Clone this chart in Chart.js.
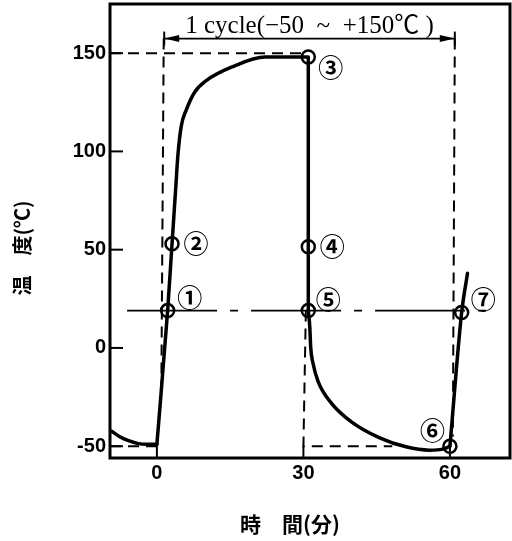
<!DOCTYPE html>
<html><head><meta charset="utf-8">
<script src="https://cdn.jsdelivr.net/npm/chart.js@4/dist/chart.umd.min.js"></script>
<style>html,body{margin:0;padding:0;background:#fff;}canvas{display:block;}</style>
</head><body>
<canvas id="c" width="512" height="541"></canvas>
<script>
// ---- data (time in minutes, temperature in °C) ----
const xTicks = [0, 30, 60];
const yTicks = [-50, 0, 50, 100, 150];
const preCycle = [[-9.2,-42.5],[-7.5,-45.3],[-5.8,-47.2],[-3.8,-48.7],[-2,-49],[0,-49]];
const heating  = [[0,-49],[2.2,19],[3.1,53],[3.85,81],[4.3,98],[5.0,113],[6.0,121],[7.7,130],[10.1,136],[15.4,143],[22.2,148],[31,148]];
const transfer = [[31,148],[31,19]];
const cooling  = [[31,19],[31.3,11],[31.5,0],[31.9,-7],[33,-17],[35.8,-28.3],[39.9,-37.7],[45.5,-45.6],[51,-50.3],[55.8,-52],[58.5,-51.5],[60,-50]];
const reheating = [[60,-50],[62.4,18],[63.6,38]];
const roomTempLine = [[-6.1,19],[69.7,19]];
const guideTop150 = [[-9.6,150],[30,150]];
const guideLow50  = [[-9.6,-50],[0,-50]];
const guideStart  = [[1.4,157.4],[0.9,-25]];
const guideEnd    = [[61.0,157.4],[60.6,-45]];
const guideMid    = [[30.5,19],[30,-50],[48.2,-50]];
const cycleSpan   = [[1.5,157.4],[61.0,157.4]];
const markers     = [[2.2,19],[3.1,53],[31,148],[31,51.5],[31,19],[60,-50],[62.4,18]];
const markerLabels = ['①','②','③','④','⑤','⑥','⑦'];
const cycleLabel = '1 cycle(−50  ~  +150℃ )';
const xTitle = '時　間(分)';
const yTitle = '温　度(℃)';

// ---- styling / layout ----
const markerOffsets = [[22,-13],[24,0],[22.5,10],[24,0],[20,-11],[-17.5,-16],[21.5,-13]];
const pts = arr => arr.map(([x,y]) => ({x, y}));
function series(data, opts) {
  return Object.assign({data: pts(data), showLine: true, pointRadius: 0, pointHoverRadius: 0,
    borderColor: '#000', backgroundColor: '#000', fill: false, tension: 0}, opts || {});
}
const dashed = {borderWidth: 2, borderDash: [11, 7]};
const curve = {borderWidth: 3.5, cubicInterpolationMode: 'monotone', borderCapStyle: 'round', borderJoinStyle: 'round'};

const datasets = [
  series(guideTop150, dashed),
  series(guideLow50, dashed),
  series(guideStart, dashed),
  series(guideEnd, dashed),
  series(guideMid, dashed),
  series(roomTempLine, {borderWidth: 1.8, borderDash: [90, 13, 8, 13]}),
  series(preCycle, curve),
  series(heating, curve),
  series(transfer, {borderWidth: 3.5}),
  series(cooling, curve),
  series(reheating, curve),
  series(cycleSpan, {borderWidth: 1.6}),
  series(markers, {showLine: false, pointRadius: 6.5, pointBorderWidth: 2.5, pointBackgroundColor: '#fff', pointBorderColor: '#000'})
];
const ARROW = 11, MARK = 12;

const decor = {
  id: 'decor',
  afterDatasetsDraw(chart) {
    const {ctx, chartArea: a, scales: {x, y}} = chart;
    ctx.save();
    ctx.strokeStyle = '#000'; ctx.fillStyle = '#000';
    // frame
    ctx.lineWidth = 3;
    ctx.strokeRect(a.left, a.top, a.right - a.left, a.bottom - a.top);
    // inward tick marks
    ctx.lineWidth = 2;
    yTicks.forEach(v => { const py = y.getPixelForValue(v); ctx.beginPath(); ctx.moveTo(a.left, py); ctx.lineTo(a.left + 13, py); ctx.stroke(); });
    xTicks.forEach(v => { const px = x.getPixelForValue(v); ctx.beginPath(); ctx.moveTo(px, a.bottom); ctx.lineTo(px, a.bottom - 12); ctx.stroke(); });
    // cycle arrow heads and end bars
    const ad = chart.getDatasetMeta(ARROW).data;
    const p0 = ad[0], p1 = ad[1];
    ctx.beginPath(); ctx.moveTo(p0.x, p0.y); ctx.lineTo(p0.x + 15, p0.y - 3.5); ctx.lineTo(p0.x + 15, p0.y + 3.5); ctx.closePath(); ctx.fill();
    ctx.beginPath(); ctx.moveTo(p1.x, p1.y); ctx.lineTo(p1.x - 15, p1.y - 3.5); ctx.lineTo(p1.x - 15, p1.y + 3.5); ctx.closePath(); ctx.fill();
    ctx.lineWidth = 2;
    [p0, p1].forEach(p => { ctx.beginPath(); ctx.moveTo(p.x, p.y - 7); ctx.lineTo(p.x, p.y + 7); ctx.stroke(); });
    ctx.font = '25px "Liberation Serif", "Noto Sans CJK JP", serif';
    ctx.textAlign = 'center'; ctx.textBaseline = 'alphabetic';
    ctx.fillText(cycleLabel, (p0.x + p1.x) / 2, p0.y - 6);
    // circled marker labels
    ctx.font = 'bold 25px "Noto Sans CJK JP", "DejaVu Sans", sans-serif';
    ctx.textBaseline = 'middle';
    chart.getDatasetMeta(MARK).data.forEach((el, i) => {
      ctx.fillText(markerLabels[i], el.x + markerOffsets[i][0], el.y + markerOffsets[i][1]);
    });
    // axis titles
    ctx.font = 'bold 21px "Noto Sans CJK JP", sans-serif';
    ctx.fillText(xTitle, a.left + 180, a.bottom + 66);
    ctx.translate(22, a.top + 244);
    ctx.rotate(-Math.PI / 2);
    ctx.font = 'bold 20px "Noto Sans CJK JP", sans-serif';
    ctx.fillText(yTitle, 0, 0);
    ctx.restore();
  }
};

const tickFont = {family: '"Liberation Sans Narrow", "Liberation Sans", sans-serif', size: 20, weight: 'bold'};

new Chart(document.getElementById('c'), {
  type: 'scatter',
  data: {datasets},
  options: {
    responsive: false, animation: false, devicePixelRatio: 1,
    layout: {autoPadding: false, padding: {top: 4, right: 2, left: 0, bottom: 0}},
    plugins: {legend: {display: false}, tooltip: {enabled: false}},
    events: [],
    scales: {
      x: {type: 'linear', min: -9.6, max: 72.3,
          afterFit: s => { s.height = 83; s.paddingLeft = 0; s.paddingRight = 0; },
          grid: {display: false, drawTicks: false}, border: {display: false},
          ticks: {stepSize: 30, includeBounds: false, color: '#000', font: tickFont, padding: 3,
                  callback: v => xTicks.includes(v) ? String(v) : null}},
      y: {type: 'linear', min: -56, max: 175,
          afterFit: s => { s.width = 110; s.paddingTop = 0; s.paddingBottom = 0; },
          grid: {display: false, drawTicks: false}, border: {display: false},
          ticks: {stepSize: 50, includeBounds: false, color: '#000', font: tickFont, padding: 4,
                  callback: v => yTicks.includes(v) ? String(v) : null}}
    }
  },
  plugins: [decor]
});
</script>
</body></html>
